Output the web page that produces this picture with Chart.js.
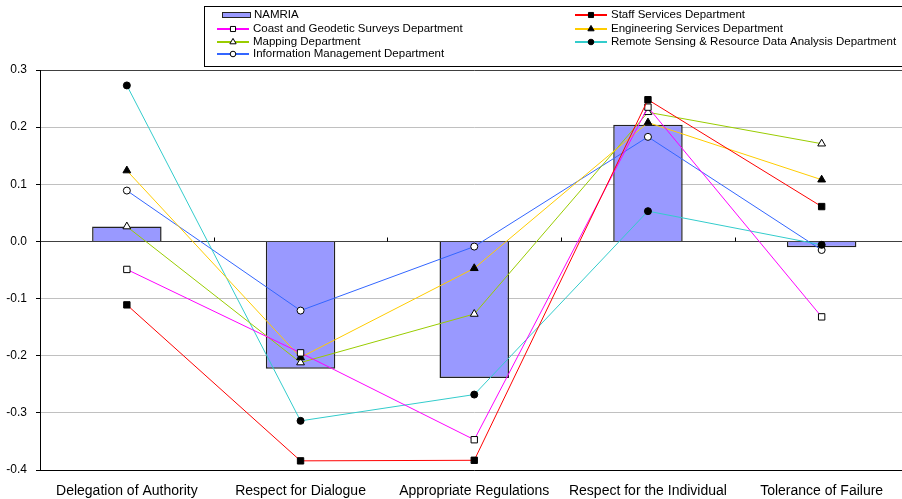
<!DOCTYPE html>
<html>
<head>
<meta charset="utf-8">
<script src="https://cdn.jsdelivr.net/npm/chart.js@4.4.0/dist/chart.umd.min.js"></script>
<style>
    html, body { margin: 0; padding: 0; background: #ffffff; overflow: hidden; }
    #wrap { position: absolute; left: 0; top: 0; width: 914px; height: 499px; }
</style>
</head>
<body>
<div id="wrap"><canvas id="chart"></canvas></div>
<script>
// categories and tick labels
const categories = ['Delegation of Authority', 'Respect for Dialogue', 'Appropriate Regulations', 'Respect for the Individual', 'Tolerance of Failure'];
const yTicks = [0.3, 0.2, 0.1, 0.0, -0.1, -0.2, -0.3, -0.4];

// series values
const namria = [0.026, -0.223, -0.239, 0.204, -0.010];
const staffServices = [-0.111, -0.384, -0.383, 0.248, 0.061];
const coastGeodetic = [-0.049, -0.195, -0.347, 0.235, -0.132];
const engineering = [0.124, -0.203, -0.047, 0.208, 0.108];
const mapping = [0.026, -0.212, -0.127, 0.226, 0.171];
const remoteSensing = [0.273, -0.314, -0.268, 0.053, -0.006];
const infoMgmt = [0.089, -0.121, -0.009, 0.183, -0.015];

function lineSet(label, data, color, style, filled, radius) {
    return {
        type: 'line',
        label: label,
        data: data,
        borderColor: color,
        borderWidth: 1,
        pointStyle: style,
        pointRadius: radius,
        pointBackgroundColor: filled ? '#000000' : '#ffffff',
        pointBorderColor: '#000000',
        pointBorderWidth: 1,
        tension: 0,
        order: 1
    };
}

const datasets = [
    {
        type: 'bar',
        label: 'NAMRIA',
        data: namria,
        backgroundColor: '#9999FF',
        borderColor: '#222222',
        borderWidth: 1.5,
        barPercentage: 0.4,
        categoryPercentage: 1,
        order: 2
    },
    lineSet('Staff Services Department', staffServices, '#FF0000', 'rect', true, 4.5),
    lineSet('Coast and Geodetic Surveys Department', coastGeodetic, '#FF00FF', 'rect', false, 4.5),
    lineSet('Engineering Services Department', engineering, '#FFCC00', 'triangle', true, 4.5),
    lineSet('Mapping Department', mapping, '#99CC00', 'triangle', false, 4.5),
    lineSet('Remote Sensing & Resource Data Analysis Department', remoteSensing, '#33CCCC', 'circle', true, 3.5),
    lineSet('Information Management Department', infoMgmt, '#3366FF', 'circle', false, 3.5)
];

// legend layout: two columns, Excel-style box
const legendOrder = [
    { ds: 0, x: 217, y: 15 },
    { ds: 2, x: 217, y: 29 },
    { ds: 4, x: 217, y: 42 },
    { ds: 6, x: 217, y: 54 },
    { ds: 1, x: 575, y: 15 },
    { ds: 3, x: 575, y: 29 },
    { ds: 5, x: 575, y: 42 }
];

const legendPlugin = {
    id: 'boxLegend',
    afterDraw(chart) {
        const ctx = chart.ctx;
        ctx.save();
        ctx.strokeStyle = '#000000';
        ctx.lineWidth = 1;
        ctx.strokeRect(204.5, 6.5, 720, 60);
        ctx.font = '11.5px "Liberation Sans", Arial, sans-serif';
        ctx.textBaseline = 'middle';
        legendOrder.forEach(item => {
            const ds = chart.data.datasets[item.ds];
            if (ds.type === 'bar') {
                ctx.fillStyle = ds.backgroundColor;
                ctx.fillRect(222, item.y - 2, 28, 5);
                ctx.lineWidth = 1;
                ctx.strokeStyle = ds.borderColor;
                ctx.strokeRect(222.5, item.y - 2.5, 28, 5);
                ctx.fillStyle = '#000000';
                ctx.fillText(ds.label, 254, item.y);
            } else {
                ctx.lineWidth = 2;
                ctx.strokeStyle = ds.borderColor;
                ctx.beginPath();
                ctx.moveTo(item.x, item.y);
                ctx.lineTo(item.x + 32, item.y);
                ctx.stroke();
                ctx.lineWidth = 1;
                ctx.fillStyle = ds.pointBackgroundColor;
                ctx.strokeStyle = '#000000';
                Chart.helpers.drawPoint(ctx, {
                    pointStyle: ds.pointStyle,
                    radius: ds.pointRadius * 0.8,
                    borderWidth: 1
                }, item.x + 16, item.y);
                ctx.fillStyle = '#000000';
                ctx.fillText(ds.label, item.x + 36, item.y);
            }
        });
        ctx.restore();
    }
};

// small category-boundary ticks on the zero line
const zeroTicks = {
    id: 'zeroTicks',
    beforeDatasetsDraw(chart) {
        const x = chart.scales.x;
        const y = chart.scales.y;
        const zy = Math.round(y.getPixelForValue(0)) + 0.5;
        const ctx = chart.ctx;
        const step = x.width / categories.length;
        ctx.save();
        ctx.strokeStyle = '#000000';
        ctx.lineWidth = 1;
        for (let i = 1; i < categories.length; i++) {
            const px = Math.round(x.left + i * step) + 0.5;
            ctx.beginPath();
            ctx.moveTo(px, zy - 4);
            ctx.lineTo(px, zy);
            ctx.stroke();
        }
        ctx.restore();
    }
};

new Chart(document.getElementById('chart'), {
    data: { labels: categories, datasets: datasets },
    options: {
        responsive: true,
        maintainAspectRatio: false,
        animation: false,
        layout: { padding: { top: 70, left: 0, right: 1, bottom: 0 } },
        plugins: {
            legend: { display: false },
            tooltip: { enabled: false }
        },
        scales: {
            x: {
                offset: true,
                grid: { display: false },
                border: { display: false },
                ticks: {
                    color: '#000000',
                    font: { family: '"Liberation Sans", Arial, sans-serif', size: 14 },
                    padding: 5,
                    maxRotation: 0,
                    autoSkip: false
                },
                afterFit(scale) { scale.height = 29; }
            },
            y: {
                min: -0.4,
                max: 0.3,
                afterBuildTicks(scale) {
                    scale.ticks = yTicks.map(v => ({ value: v }));
                },
                grid: {
                    color(c) {
                        const v = Math.round(c.tick.value * 10);
                        if (v === -4) return '#000000';
                        if (v === 0 || v === 3) return '#404040';
                        return '#C0C0C0';
                    },
                    tickColor: '#000000',
                    tickLength: 4
                },
                border: { color: '#000000', width: 1 },
                ticks: {
                    color: '#000000',
                    font: { family: '"Liberation Sans", Arial, sans-serif', size: 12 },
                    padding: 9,
                    callback: v => v.toFixed(1)
                },
                afterFit(scale) { scale.width = 40; }
            }
        }
    },
    plugins: [zeroTicks, legendPlugin]
});
</script>
</body>
</html>
